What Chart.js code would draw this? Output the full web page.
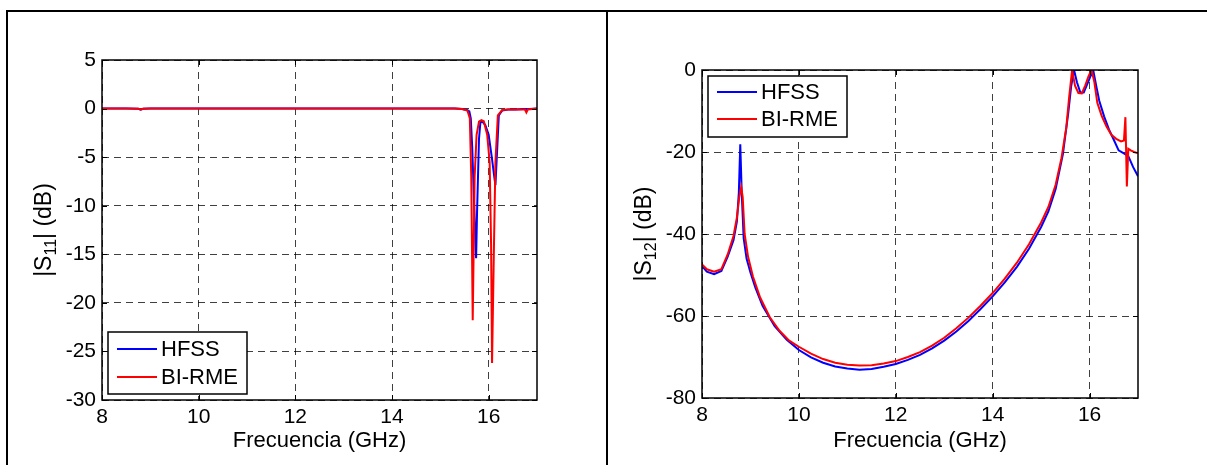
<!DOCTYPE html>
<html>
<head>
<meta charset="utf-8">
<script src="https://cdn.jsdelivr.net/npm/chart.js@4.4.1/dist/chart.umd.min.js"></script>
<style>
  body { margin: 0; background: #fff; width: 1207px; height: 465px; overflow: hidden; position: relative; }
  .line { position: absolute; background: #000; }
  canvas { position: absolute; top: 0; }
</style>
</head>
<body>
<div class="line" style="left:6px; top:10px; width:1201px; height:2px;"></div>
<div class="line" style="left:6px; top:10px; width:2px; height:455px;"></div>
<div class="line" style="left:606px; top:10px; width:2px; height:455px;"></div>
<canvas id="chartS11" width="606" height="465" style="left:0px;"></canvas>
<canvas id="chartS12" width="599" height="465" style="left:608px;"></canvas>
<script>
// |S11| data
const s11HfssFreq = [8, 8.5, 8.75, 8.8, 8.85, 9, 10, 12, 14, 15, 15.3, 15.45, 15.55, 15.6, 15.63, 15.66, 15.70, 15.74, 15.76, 15.80, 15.83, 15.88, 15.93, 16.0, 16.07, 16.11, 16.14, 16.18, 16.21, 16.28, 16.4, 16.55, 16.7, 16.85, 17];
const s11Hfss = [0, 0, -0.03, -0.12, -0.03, 0, 0, 0, 0, 0, 0, -0.05, -0.15, -0.3, -1.0, -4, -10, -15.4, -10.6, -3.1, -1.35, -1.4, -1.7, -2.7, -5.2, -6.8, -7.9, -3.8, -0.7, -0.2, -0.1, -0.1, -0.05, -0.05, 0];
const s11BirmeFreq = [8, 8.5, 8.75, 8.8, 8.85, 9, 10, 12, 14, 15, 15.3, 15.45, 15.56, 15.61, 15.64, 15.67, 15.71, 15.75, 15.80, 15.85, 15.90, 15.97, 16.02, 16.05, 16.07, 16.11, 16.14, 16.19, 16.28, 16.4, 16.6, 16.75, 16.78, 16.81, 16.9, 17];
const s11Birme = [0, 0, -0.02, -0.08, -0.02, 0, 0, 0, 0, 0, 0, -0.05, -0.2, -1.0, -7, -21.8, -7, -2.7, -1.35, -1.2, -1.3, -2.7, -5.5, -14, -26.2, -14, -5.5, -0.7, -0.15, -0.1, -0.1, -0.1, -0.4, -0.1, -0.05, 0];
const s11XTicks = [8, 10, 12, 14, 16];
const s11YTicks = [5, 0, -5, -10, -15, -20, -25, -30];

// |S12| data
const s12HfssFreq = [8.0, 8.1, 8.25, 8.4, 8.53, 8.65, 8.72, 8.76, 8.79, 8.82, 8.86, 8.92, 9.0, 9.1, 9.25, 9.5, 9.75, 10.0, 10.25, 10.5, 10.75, 11.0, 11.25, 11.5, 11.75, 12.0, 12.25, 12.5, 12.75, 13.0, 13.25, 13.5, 13.75, 14.0, 14.25, 14.5, 14.75, 15.0, 15.15, 15.3, 15.45, 15.56, 15.62, 15.68, 15.74, 15.81, 15.88, 15.95, 16.02, 16.08, 16.14, 16.2, 16.3, 16.4, 16.5, 16.6, 16.7, 16.8, 16.9, 17.0];
const s12Hfss = [-47.8, -49.2, -49.8, -49.0, -45.5, -41.5, -37, -30, -18.1, -30, -41, -46, -49.4, -53, -57.5, -62.5, -65.8, -68.3, -70.1, -71.4, -72.3, -72.8, -73.1, -72.9, -72.4, -71.7, -70.7, -69.5, -67.9, -66.0, -63.8, -61.2, -58.3, -55.2, -51.8, -48, -43.6, -38.3, -34.5, -29, -20.5, -10.5, -4, 0, -3, -5.5, -5.5, -3.5, -1.5, -0.3, -4, -7.5, -11.3, -14.5, -17, -19.6, -20.3, -21, -23.7, -25.9];
const s12BirmeFreq = [8.0, 8.1, 8.25, 8.4, 8.53, 8.65, 8.72, 8.77, 8.81, 8.84, 8.88, 8.95, 9.05, 9.2, 9.4, 9.6, 9.8, 10.0, 10.25, 10.5, 10.75, 11.0, 11.25, 11.5, 11.75, 12.0, 12.25, 12.5, 12.75, 13.0, 13.25, 13.5, 13.75, 14.0, 14.25, 14.5, 14.75, 15.0, 15.15, 15.3, 15.42, 15.52, 15.58, 15.64, 15.7, 15.77, 15.84, 15.91, 15.98, 16.04, 16.1, 16.16, 16.25, 16.35, 16.45, 16.55, 16.65, 16.71, 16.74, 16.77, 16.8, 16.85, 16.92, 17.0];
const s12Birme = [-47.4, -48.6, -49.2, -48.6, -45, -40.5, -36, -31, -28.6, -31, -40, -45.5, -50.3, -55.5, -60.3, -63.6, -66, -67.5, -69.2, -70.5, -71.4, -71.9, -72.1, -72.0, -71.6, -71.0, -70.0, -68.8, -67.2, -65.3, -63.0, -60.4, -57.5, -54.4, -50.9, -47, -42.5, -37.2, -33.4, -28, -21.5, -14, -6.5, 0, -3.8, -5.6, -5.7, -3.8, -1.5, 0, -3, -8, -11.2, -13.8, -15.8, -16.8, -17.4, -17.2, -11.5, -28.4, -19.2, -19.6, -20, -20.3];
const s12XTicks = [8, 10, 12, 14, 16];
const s12YTicks = [0, -20, -40, -60, -80];

const FONT = '"Liberation Sans", Arial, Helvetica, sans-serif';
Chart.defaults.font.family = FONT;
Chart.defaults.color = '#000';

function toPoints(freq, vals) {
    return freq.map((f, i) => ({x: f, y: vals[i]}));
}

// box round the axes with small inward ticks, like matlab
const axesBox = {
    id: 'axesBox',
    afterDatasetsDraw(chart) {
        const ctx = chart.ctx, a = chart.chartArea;
        const sx = chart.scales.x, sy = chart.scales.y;
        ctx.save();
        ctx.strokeStyle = '#000';
        ctx.lineWidth = 1.5;
        ctx.strokeRect(a.left, a.top, a.right - a.left, a.bottom - a.top);
        ctx.lineWidth = 1;
        ctx.beginPath();
        sx.ticks.forEach(t => {
            const px = Math.round(sx.getPixelForValue(t.value)) + 0.5;
            ctx.moveTo(px, a.bottom); ctx.lineTo(px, a.bottom - 5);
            ctx.moveTo(px, a.top); ctx.lineTo(px, a.top + 5);
        });
        sy.ticks.forEach(t => {
            const py = Math.round(sy.getPixelForValue(t.value)) + 0.5;
            ctx.moveTo(a.left, py); ctx.lineTo(a.left + 5, py);
            ctx.moveTo(a.right, py); ctx.lineTo(a.right - 5, py);
        });
        ctx.stroke();
        ctx.restore();
    }
};

// y title with subscript
const yTitle = {
    id: 'yTitle',
    afterDraw(chart, args, opts) {
        const ctx = chart.ctx, a = chart.chartArea;
        ctx.save();
        ctx.translate(a.left - opts.offset, (a.top + a.bottom) / 2);
        ctx.rotate(-Math.PI / 2);
        ctx.fillStyle = '#000';
        ctx.textBaseline = 'alphabetic';
        const parts = [[opts.pre, 23, 8], [opts.sub, 16, 13], [opts.post, 23, 8]];
        let total = 0;
        parts.forEach(p => { ctx.font = p[1] + 'px ' + FONT; total += ctx.measureText(p[0]).width; });
        let x = -total / 2;
        parts.forEach(p => {
            ctx.font = p[1] + 'px ' + FONT;
            ctx.fillText(p[0], x, p[2]);
            x += ctx.measureText(p[0]).width;
        });
        ctx.restore();
    }
};

// legend drawn inside the plot
const boxLegend = {
    id: 'boxLegend',
    afterDraw(chart, args, opts) {
        const ctx = chart.ctx;
        ctx.save();
        ctx.fillStyle = '#fff';
        ctx.fillRect(opts.x, opts.y, opts.w, opts.h);
        ctx.strokeStyle = '#000';
        ctx.lineWidth = 1.5;
        ctx.strokeRect(opts.x, opts.y, opts.w, opts.h);
        ctx.font = '22px ' + FONT;
        ctx.textBaseline = 'middle';
        chart.data.datasets.forEach((ds, i) => {
            const yy = opts.y + opts.first + i * opts.gap;
            ctx.strokeStyle = ds.borderColor;
            ctx.lineWidth = 2;
            ctx.beginPath();
            ctx.moveTo(opts.x + 9, yy);
            ctx.lineTo(opts.x + 49, yy);
            ctx.stroke();
            ctx.fillStyle = '#000';
            ctx.fillText(ds.label, opts.x + 53, yy + 1);
        });
        ctx.restore();
    }
};

function makeChart(id, cfg) {
    return new Chart(document.getElementById(id), {
        type: 'line',
        data: {
            datasets: [{
                label: 'HFSS',
                data: toPoints(cfg.hfssFreq, cfg.hfss),
                borderColor: '#0000ff',
                borderWidth: 2,
                order: 1
            }, {
                label: 'BI-RME',
                data: toPoints(cfg.birmeFreq, cfg.birme),
                borderColor: '#ff0000',
                borderWidth: 2,
                order: 0
            }]
        },
        options: {
            responsive: false,
            animation: false,
            events: [],
            elements: { point: { radius: 0 }, line: { tension: 0 } },
            layout: { padding: cfg.padding },
            plugins: {
                legend: { display: false },
                tooltip: { enabled: false },
                yTitle: cfg.yTitle,
                boxLegend: cfg.legend
            },
            scales: {
                x: {
                    type: 'linear',
                    min: 8,
                    max: 17,
                    afterBuildTicks: s => { s.ticks = cfg.xTicks.map(v => ({value: v})); },
                    afterFit: s => { s.height = cfg.xHeight; },
                    grid: { color: 'rgba(0,0,0,0.75)', lineWidth: 1, drawTicks: false, borderDash: [7, 5] },
                    border: { display: false, dash: [7, 5] },
                    ticks: { padding: 5, font: { size: 21 }, maxRotation: 0 },
                    title: {
                        display: true,
                        text: 'Frecuencia (GHz)',
                        font: { size: 22 },
                        padding: { top: 0, bottom: 11 }
                    }
                },
                y: {
                    type: 'linear',
                    min: cfg.yMin,
                    max: cfg.yMax,
                    afterBuildTicks: s => { s.ticks = cfg.yTicks.map(v => ({value: v})); },
                    afterFit: s => { s.width = cfg.yWidth; },
                    grid: { color: 'rgba(0,0,0,0.75)', lineWidth: 1, drawTicks: false, borderDash: [7, 5] },
                    border: { display: false, dash: [7, 5] },
                    ticks: { padding: 6, font: { size: 21 } }
                }
            }
        },
        plugins: [axesBox, yTitle, boxLegend]
    });
}

makeChart('chartS11', {
    hfssFreq: s11HfssFreq, hfss: s11Hfss,
    birmeFreq: s11BirmeFreq, birme: s11Birme,
    xTicks: s11XTicks, yTicks: s11YTicks,
    yMin: -30, yMax: 5,
    padding: { left: 0, top: 60, right: 69, bottom: 0 },
    xHeight: 65, yWidth: 102,
    yTitle: { offset: 59, pre: '|S', sub: '11', post: '| (dB)' },
    legend: { x: 108, y: 332, w: 139, h: 62, first: 17, gap: 28 }
});

makeChart('chartS12', {
    hfssFreq: s12HfssFreq, hfss: s12Hfss,
    birmeFreq: s12BirmeFreq, birme: s12Birme,
    xTicks: s12XTicks, yTicks: s12YTicks,
    yMin: -80, yMax: 0,
    padding: { left: 0, top: 70, right: 69, bottom: 0 },
    xHeight: 67, yWidth: 94,
    yTitle: { offset: 59, pre: '|S', sub: '12', post: '| (dB)' },
    legend: { x: 100, y: 76, w: 139, h: 61, first: 16, gap: 27 }
});
</script>
</body>
</html>
